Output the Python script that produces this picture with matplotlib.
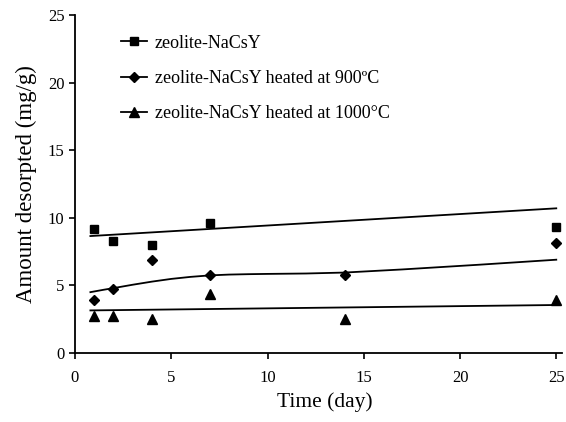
import numpy as np
import matplotlib
matplotlib.use("Agg")
import matplotlib.pyplot as plt

plt.rcParams['font.family'] = ['Liberation Serif', 'DejaVu Serif']

# measured points
t_a = [1, 2, 4, 7, 25]
y_a = [9.2, 8.3, 8.0, 9.6, 9.3]
t_b = [1, 2, 4, 7, 14, 25]
y_b = [3.9, 4.7, 6.9, 5.8, 5.8, 8.1]
t_c = [1, 2, 4, 7, 14, 25]
y_c = [2.7, 2.7, 2.5, 4.4, 2.5, 3.9]

# trend lines
trend_t_a = [0.8, 25]
trend_a = [8.65, 10.7]
trend_t_b = [0.8, 1.5, 2, 3, 4, 5, 6, 7, 8, 9, 10, 12, 14, 17, 21, 25]
trend_b = [4.5, 4.68, 4.8, 5.05, 5.28, 5.48, 5.63, 5.74, 5.8, 5.83, 5.85, 5.88, 5.95, 6.18, 6.53, 6.9]
trend_t_c = [0.8, 25]
trend_c = [3.15, 3.55]

labels = ["zeolite-NaCsY",
          "zeolite-NaCsY heated at 900\u00baC",
          "zeolite-NaCsY heated at 1000\u00b0C"]

fig = plt.figure(figsize=(5.66, 4.22), dpi=100)
ax = fig.add_axes([0.1325, 0.1635, 0.8605, 0.801])

ax.plot(t_a, y_a, 's', color='black', ms=6, ls='none')
ax.plot(t_b, y_b, 'D', color='black', ms=5, ls='none')
ax.plot(t_c, y_c, '^', color='black', ms=6.5, ls='none')

ax.plot(trend_t_a, trend_a, color='black', lw=1.3)
ax.plot(trend_t_b, trend_b, color='black', lw=1.3, solid_joinstyle='round')
ax.plot(trend_t_c, trend_c, color='black', lw=1.3)

# legend handles
h1, = ax.plot([], [], 's-', color='black', ms=6, lw=1.3)
h2, = ax.plot([], [], 'D-', color='black', ms=5, lw=1.3)
h3, = ax.plot([], [], '^-', color='black', ms=6.5, lw=1.3)
ax.legend([h1, h2, h3], labels, loc='upper left', bbox_to_anchor=(0.062, 0.99),
          frameon=False, fontsize=13, handlelength=1.4, handletextpad=0.45,
          labelspacing=1.02)

ax.set_xlim(0, 25.3)
ax.set_ylim(0, 25)
ax.set_xticks([0, 5, 10, 15, 20, 25])
ax.set_yticks([0, 5, 10, 15, 20, 25])
ax.spines['top'].set_visible(False)
ax.spines['right'].set_visible(False)
for s in ['left', 'bottom']:
    ax.spines[s].set_linewidth(1.3)
ax.tick_params(direction='out', length=4, width=1.2, labelsize=12)
ax.tick_params(axis='x', pad=8)
ax.set_xlabel("Time (day)", fontsize=15.5)
ax.xaxis.set_label_coords(0.513, -0.115)
ax.set_ylabel("Amount desorpted (mg/g)", fontsize=16.5, labelpad=8)

fig.savefig("out.png", dpi=100)
